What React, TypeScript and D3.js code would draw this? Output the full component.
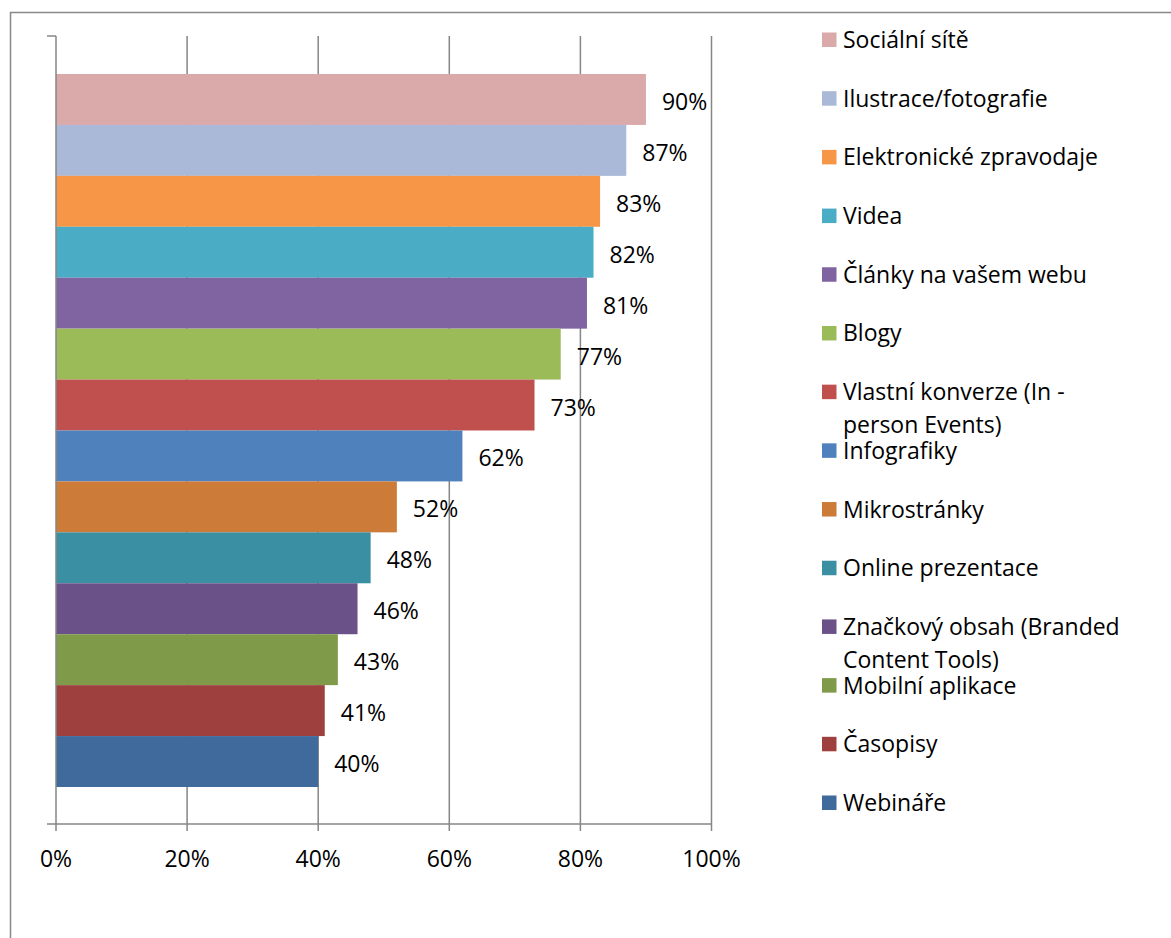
import React from "react";
import * as d3 from "d3";

const categories = [
  "Sociální sítě",
  "Ilustrace/fotografie",
  "Elektronické zpravodaje",
  "Videa",
  "Články na vašem webu",
  "Blogy",
  "Vlastní konverze (In - person Events)",
  "Infografiky",
  "Mikrostránky",
  "Online prezentace",
  "Značkový obsah (Branded Content Tools)",
  "Mobilní aplikace",
  "Časopisy",
  "Webináře",
];
const legendLines = [
  ["Sociální sítě"],
  ["Ilustrace/fotografie"],
  ["Elektronické zpravodaje"],
  ["Videa"],
  ["Články na vašem webu"],
  ["Blogy"],
  ["Vlastní konverze (In -", "person Events)"],
  ["Infografiky"],
  ["Mikrostránky"],
  ["Online prezentace"],
  ["Značkový obsah (Branded", "Content Tools)"],
  ["Mobilní aplikace"],
  ["Časopisy"],
  ["Webináře"],
];
const values = [0.9, 0.87, 0.83, 0.82, 0.81, 0.77, 0.73, 0.62, 0.52, 0.48, 0.46, 0.43, 0.41, 0.4];
const colors = [
  "#DAA9A9", "#A9B9D7", "#F79646", "#4BACC6", "#8064A2", "#9BBB59", "#C0504D",
  "#4F81BD", "#CC7B38", "#3A8FA2", "#6A5187", "#7F9A48", "#9E413E", "#40699C",
];
const xTicks = [0, 0.2, 0.4, 0.6, 0.8, 1.0];

const FONT = "'Open Sans', sans-serif";
const FS = 23;
const AXIS = "#868686";

export default function App() {
  const x = d3.scaleLinear().domain([0, 1]).range([56, 711.5]);
  const plotTop = 36;
  const plotBottom = 824;
  const y = d3.scaleBand<string>().domain(categories).range([74, 787]).padding(0);
  const fmt = d3.format(".0%");
  const legendY = d3.scaleLinear().domain([0, 13]).range([40, 803]);

  return (
    <svg width={1171} height={938} style={{ position: "absolute", left: 0, top: 0 }}>
      <rect x={0} y={0} width={1171} height={938} fill="#fff" />
      <path d="M10.5,940 L10.5,12.5 L1175,12.5" fill="none" stroke="#898989" strokeWidth={1.5} />
      {xTicks.slice(1).map((t) => (
        <line key={t} x1={x(t)} x2={x(t)} y1={plotTop} y2={plotBottom} stroke={AXIS} strokeWidth={1.5} />
      ))}
      {categories.map((c, i) => (
        <rect key={c} x={x(0)} y={y(c)} width={x(values[i]) - x(0)} height={y.bandwidth()} fill={colors[i]} />
      ))}
      {/* y axis */}
      <line x1={x(0)} x2={x(0)} y1={plotTop} y2={plotBottom} stroke={AXIS} strokeWidth={1.5} />
      <line x1={47} x2={x(0)} y1={plotTop} y2={plotTop} stroke={AXIS} strokeWidth={1.5} />
      <line x1={47} x2={x(0)} y1={plotBottom} y2={plotBottom} stroke={AXIS} strokeWidth={1.5} />
      {/* x axis */}
      <line x1={x(0)} x2={x(1)} y1={plotBottom} y2={plotBottom} stroke={AXIS} strokeWidth={1.5} />
      {xTicks.map((t) => (
        <g key={t}>
          <line x1={x(t)} x2={x(t)} y1={plotBottom} y2={plotBottom + 7} stroke={AXIS} strokeWidth={1.5} />
          <text x={x(t)} y={867} textAnchor="middle" fontFamily={FONT} fontSize={FS} fill="#000">
            {fmt(t)}
          </text>
        </g>
      ))}
      {categories.map((c, i) => (
        <text
          key={c}
          x={x(values[i]) + 16}
          y={(y(c) as number) + y.bandwidth() / 2 + 10.5}
          fontFamily={FONT}
          fontSize={FS}
          fill="#000"
        >
          {fmt(values[i])}
        </text>
      ))}
      {legendLines.map((lines, i) => (
        <g key={i}>
          <rect x={822} y={legendY(i) - 7.5} width={14.5} height={14.5} fill={colors[i]} />
          {lines.map((l, j) => (
            <text key={j} x={843} y={legendY(i) + 8 + j * 33} fontFamily={FONT} fontSize={FS} fill="#000">
              {l}
            </text>
          ))}
        </g>
      ))}
    </svg>
  );
}
